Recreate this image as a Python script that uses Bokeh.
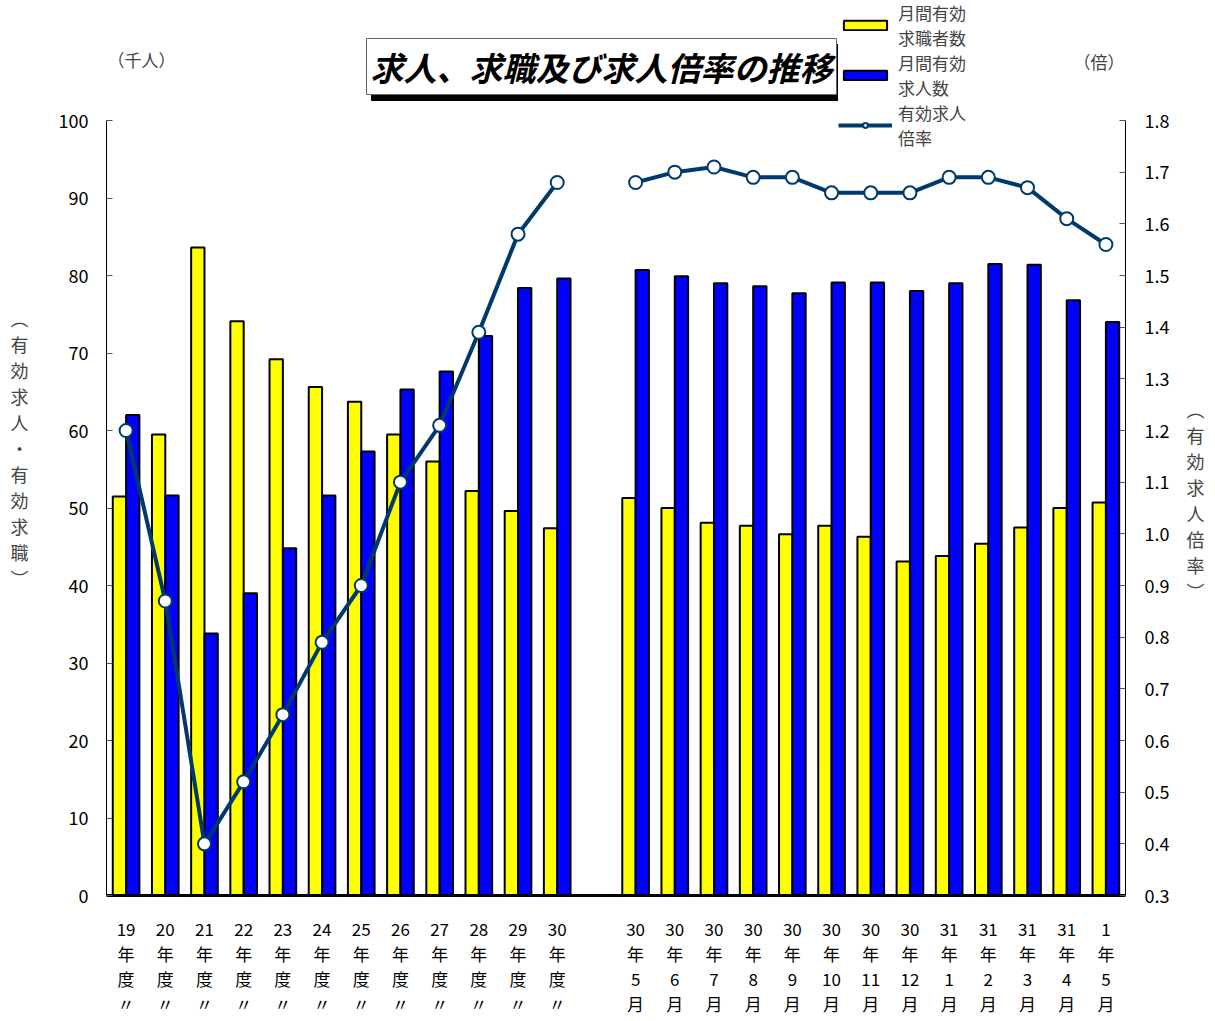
from bokeh.plotting import figure
from bokeh.models import Range1d, LinearAxis, FixedTicker, Label, Legend, LegendItem, PrintfTickFormatter
from bokeh.embed import file_html
from bokeh.resources import INLINE

# ---------------- data ----------------
fiscal_years = ["19", "20", "21", "22", "23", "24", "25", "26", "27", "28", "29", "30"]
month_years = ["30", "30", "30", "30", "30", "30", "30", "30", "31", "31", "31", "31", "1"]
month_nums = ["5", "6", "7", "8", "9", "10", "11", "12", "1", "2", "3", "4", "5"]

fiscal_seekers = [51.5, 59.5, 83.6, 74.1, 69.2, 65.6, 63.7, 59.5, 56.0, 52.2, 49.6, 47.4]
fiscal_openings = [62.0, 51.6, 33.8, 39.0, 44.8, 51.6, 57.3, 65.3, 67.6, 72.2, 78.4, 79.6]
fiscal_ratio = [1.20, 0.87, 0.40, 0.52, 0.65, 0.79, 0.90, 1.10, 1.21, 1.39, 1.58, 1.68]

month_seekers = [51.3, 50.0, 48.1, 47.7, 46.6, 47.7, 46.3, 43.1, 43.8, 45.4, 47.5, 50.0, 50.7]
month_openings = [80.7, 79.9, 79.0, 78.6, 77.7, 79.1, 79.1, 78.0, 79.0, 81.5, 81.4, 76.8, 74.0]
month_ratio = [1.68, 1.70, 1.71, 1.69, 1.69, 1.66, 1.66, 1.66, 1.69, 1.69, 1.67, 1.61, 1.56]

left_ticks = [0, 10, 20, 30, 40, 50, 60, 70, 80, 90, 100]
right_ticks = [0.3, 0.4, 0.5, 0.6, 0.7, 0.8, 0.9, 1.0, 1.1, 1.2, 1.3, 1.4, 1.5, 1.6, 1.7, 1.8]

# ---------------- positions (slot 12 left empty as in the original) ----------------
fx = list(range(len(fiscal_years)))
mx = [len(fiscal_years) + 1 + j for j in range(len(month_nums))]

FONT = "Noto Sans CJK JP"
YELLOW = "#FFFF00"
BLUE = "#0000FF"
NAVY = "#003A6C"

W, H = 1212, 1018
FL, FT, FR, FB = 106, 120, 1125, 895   # page position of the axes box (0..100 / 0.3..1.8)
FTOP = 0                               # the frame reaches the page top so that the
                                       # title and legend above the axes stay visible
L0, L1 = 0, 100
R0, R1 = 0.3, 1.8
ext = (FB - FTOP) / (FB - FT)

p = figure(width=W, height=H, x_range=Range1d(-0.5, 25.5),
           y_range=Range1d(L0, L0 + (L1 - L0) * ext),
           output_backend="svg", toolbar_location=None,
           min_border_left=FL, min_border_right=W - FR, min_border_top=FTOP,
           min_border_bottom=H - FB)
p.extra_y_ranges = {"ratio": Range1d(R0, R0 + (R1 - R0) * ext)}
p.outline_line_color = None
p.xgrid.visible = False
p.ygrid.visible = False
p.background_fill_color = "white"
p.border_fill_color = "white"

BW = 0.34
r_y1 = p.vbar(x=[v - BW / 2 for v in fx], top=fiscal_seekers, width=BW, bottom=0,
              fill_color=YELLOW, line_color="black", line_width=2)
p.vbar(x=[v - BW / 2 for v in mx], top=month_seekers, width=BW, bottom=0,
       fill_color=YELLOW, line_color="black", line_width=2)
r_b1 = p.vbar(x=[v + BW / 2 for v in fx], top=fiscal_openings, width=BW, bottom=0,
              fill_color=BLUE, line_color="black", line_width=2)
p.vbar(x=[v + BW / 2 for v in mx], top=month_openings, width=BW, bottom=0,
       fill_color=BLUE, line_color="black", line_width=2)

r_l1 = p.line(fx, fiscal_ratio, y_range_name="ratio", line_color=NAVY, line_width=4)
p.line(mx, month_ratio, y_range_name="ratio", line_color=NAVY, line_width=4)
r_c1 = p.scatter(fx, fiscal_ratio, y_range_name="ratio", size=13, marker="circle",
                 fill_color="white", line_color=NAVY, line_width=2)
p.scatter(mx, month_ratio, y_range_name="ratio", size=13, marker="circle",
          fill_color="white", line_color=NAVY, line_width=2)

# ---------------- axes ----------------
ya = p.yaxis[0]
ya.ticker = FixedTicker(ticks=left_ticks)
ya.bounds = (L0, L1)
ya.axis_line_color = "black"
ya.axis_line_width = 1
ya.major_tick_in = 6
ya.major_tick_out = 0
ya.major_tick_line_color = "#555555"
ya.minor_tick_line_color = None
ya.major_label_text_font = FONT
ya.major_label_text_font_size = "18px"
ya.major_label_text_color = "black"
ya.major_label_standoff = 18
ya.axis_label = "︵\n有\n効\n求\n人\n・\n有\n効\n求\n職\n︶"
ya.axis_label_orientation = "horizontal"
ya.axis_label_text_font = FONT
ya.axis_label_text_font_size = "18px"
ya.axis_label_text_font_style = "normal"
ya.axis_label_text_line_height = 1.0
ya.axis_label_standoff = 27

ra = LinearAxis(y_range_name="ratio", ticker=FixedTicker(ticks=right_ticks),
                formatter=PrintfTickFormatter(format="%.1f"))
ra.bounds = (R0, R1)
ra.axis_line_color = "black"
ra.axis_line_width = 1
ra.major_tick_in = 6
ra.major_tick_out = 0
ra.major_tick_line_color = "#555555"
ra.minor_tick_line_color = None
ra.major_label_text_font = FONT
ra.major_label_text_font_size = "18px"
ra.major_label_text_color = "black"
ra.major_label_standoff = 19
ra.axis_label = "\n\n\n\n︵\n有\n効\n求\n人\n倍\n率\n︶"
ra.axis_label_orientation = "horizontal"
ra.axis_label_text_font = FONT
ra.axis_label_text_font_size = "18px"
ra.axis_label_text_font_style = "normal"
ra.axis_label_text_line_height = 1.0
ra.axis_label_standoff = 14
p.add_layout(ra, "right")

xa = p.xaxis[0]
xa.ticker = FixedTicker(ticks=fx + mx)
overrides = {}
for i, v in enumerate(fx):
    overrides[v] = fiscal_years[i] + "\n年\n度\n〃"
for j, v in enumerate(mx):
    overrides[v] = month_years[j] + "\n年\n" + month_nums[j] + "\n月"
xa.major_label_overrides = overrides
xa.axis_line_color = "black"
xa.axis_line_width = 3
xa.major_tick_in = 0
xa.major_tick_out = 0
xa.minor_tick_line_color = None
xa.major_label_text_font = FONT
xa.major_label_text_font_size = "17px"
xa.major_label_text_line_height = 1.0
xa.major_label_standoff = 20
xa.major_label_text_color = "black"

# ---------------- annotations (placed in data units from page pixels) ----------------
def dx(page_x):
    return -0.5 + (page_x - FL) * 26 / (FR - FL)

def dy(page_y):
    return L0 + (FB - page_y) * (L1 - L0) / (FB - FT)

title_text = "求人、求職及び求人倍率の推移"
shadow = Label(x=dx(371), y=dy(72), text=title_text,
               text_font=FONT, text_font_size="33px", text_font_style="bold italic",
               text_color="black", text_align="left", text_baseline="middle",
               background_fill_color="black", border_line_color="black", padding=4)
title = Label(x=dx(366), y=dy(66), text=title_text,
              text_font=FONT, text_font_size="33px", text_font_style="bold italic",
              text_color="black", text_align="left", text_baseline="middle",
              background_fill_color="white", border_line_color="#666666",
              border_line_width=1, padding=4)
p.add_layout(shadow)
p.add_layout(title)

p.add_layout(Label(x=dx(FL + 1), y=dy(59), text="（千人）",
                   text_font=FONT, text_font_size="17px", text_align="left", text_baseline="middle"))
p.add_layout(Label(x=dx(FR - 1), y=dy(61), text="（倍）",
                   text_font=FONT, text_font_size="17px", text_align="right", text_baseline="middle"))

legend = Legend(items=[
    LegendItem(label="月間有効\n求職者数", renderers=[r_y1]),
    LegendItem(label="月間有効\n求人数", renderers=[r_b1]),
    LegendItem(label="有効求人\n倍率", renderers=[r_l1, r_c1]),
], location=(838 - FL, FB - 150))
legend.label_text_font = FONT
legend.label_text_font_size = "17px"
legend.glyph_width = 54
legend.glyph_height = 12
legend.spacing = 0
legend.padding = 4
legend.margin = 0
legend.label_standoff = 6
legend.border_line_color = None
legend.background_fill_color = "white"
legend.background_fill_alpha = 1.0
p.add_layout(legend)

open("out.html", "w").write(file_html(p, INLINE))
